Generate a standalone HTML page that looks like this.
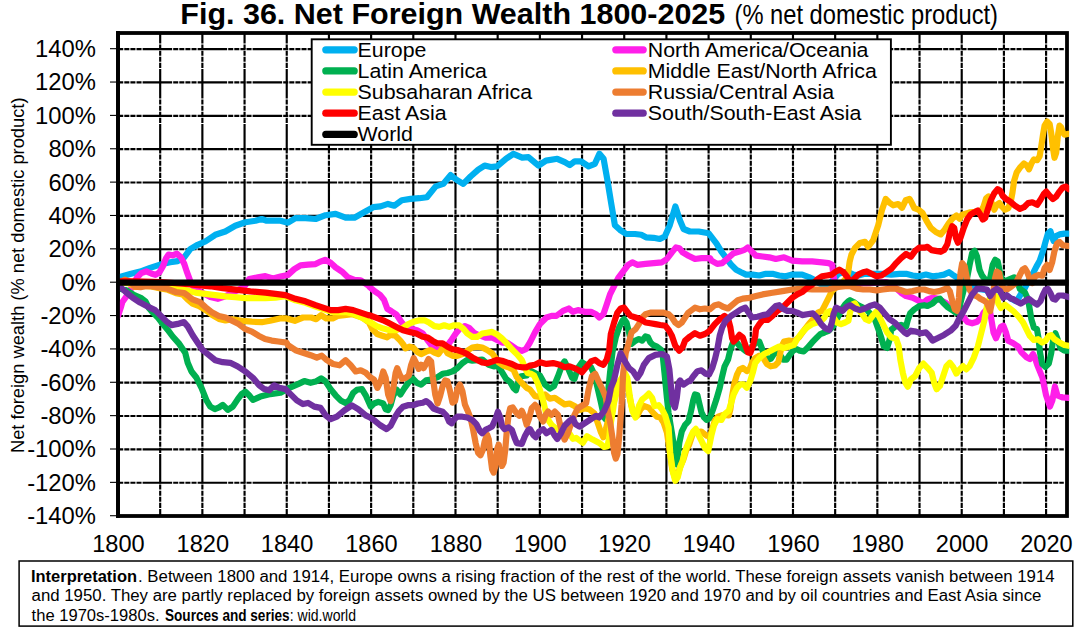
<!DOCTYPE html>
<html lang="en"><head><meta charset="utf-8"><title>Fig. 36. Net Foreign Wealth 1800-2025</title>
<style>html,body{margin:0;padding:0;background:#fff}body{width:1091px;height:638px;overflow:hidden}svg{display:block}text{font-family:"Liberation Sans", sans-serif;fill:#000}</style>
</head><body>
<svg width="1091" height="638" viewBox="0 0 1091 638">
<rect x="0" y="0" width="1091" height="638" fill="#fff"/>
<text x="180.3" y="23.7" font-size="29.2" font-weight="bold" textLength="545.0" lengthAdjust="spacingAndGlyphs">Fig. 36. Net Foreign Wealth 1800-2025</text>
<text x="734.5" y="23.8" font-size="27.6" textLength="263.5" lengthAdjust="spacingAndGlyphs">(% net domestic product)</text>
<g stroke="#000" stroke-width="2.15" fill="none" stroke-dasharray="5.05 1.05 5.05 1.05 5.05 1.05 5.05 1.05 29.55 1.05">
<line x1="118.2" y1="482.76" x2="1063.8" y2="482.76"/>
<line x1="118.2" y1="449.40" x2="1063.8" y2="449.40"/>
<line x1="118.2" y1="416.04" x2="1063.8" y2="416.04"/>
<line x1="118.2" y1="382.68" x2="1063.8" y2="382.68"/>
<line x1="118.2" y1="349.32" x2="1063.8" y2="349.32"/>
<line x1="118.2" y1="315.96" x2="1063.8" y2="315.96"/>
<line x1="118.2" y1="249.24" x2="1063.8" y2="249.24"/>
<line x1="118.2" y1="215.88" x2="1063.8" y2="215.88"/>
<line x1="118.2" y1="182.52" x2="1063.8" y2="182.52"/>
<line x1="118.2" y1="149.16" x2="1063.8" y2="149.16"/>
<line x1="118.2" y1="115.80" x2="1063.8" y2="115.80"/>
<line x1="118.2" y1="82.44" x2="1063.8" y2="82.44"/>
<line x1="118.2" y1="49.08" x2="1063.8" y2="49.08"/>
<line x1="160.19" y1="33.00" x2="160.19" y2="516.0" stroke-dashoffset="43.45"/>
<line x1="202.37" y1="33.00" x2="202.37" y2="516.0" stroke-dashoffset="43.45"/>
<line x1="244.56" y1="33.00" x2="244.56" y2="516.0" stroke-dashoffset="43.45"/>
<line x1="286.74" y1="33.00" x2="286.74" y2="516.0" stroke-dashoffset="43.45"/>
<line x1="328.93" y1="33.00" x2="328.93" y2="516.0" stroke-dashoffset="43.45"/>
<line x1="371.12" y1="33.00" x2="371.12" y2="516.0" stroke-dashoffset="43.45"/>
<line x1="413.30" y1="33.00" x2="413.30" y2="516.0" stroke-dashoffset="43.45"/>
<line x1="455.49" y1="33.00" x2="455.49" y2="516.0" stroke-dashoffset="43.45"/>
<line x1="497.67" y1="33.00" x2="497.67" y2="516.0" stroke-dashoffset="43.45"/>
<line x1="539.86" y1="33.00" x2="539.86" y2="516.0" stroke-dashoffset="43.45"/>
<line x1="582.05" y1="33.00" x2="582.05" y2="516.0" stroke-dashoffset="43.45"/>
<line x1="624.23" y1="33.00" x2="624.23" y2="516.0" stroke-dashoffset="43.45"/>
<line x1="666.42" y1="33.00" x2="666.42" y2="516.0" stroke-dashoffset="43.45"/>
<line x1="708.60" y1="33.00" x2="708.60" y2="516.0" stroke-dashoffset="43.45"/>
<line x1="750.79" y1="33.00" x2="750.79" y2="516.0" stroke-dashoffset="43.45"/>
<line x1="792.98" y1="33.00" x2="792.98" y2="516.0" stroke-dashoffset="43.45"/>
<line x1="835.16" y1="33.00" x2="835.16" y2="516.0" stroke-dashoffset="43.45"/>
<line x1="877.35" y1="33.00" x2="877.35" y2="516.0" stroke-dashoffset="43.45"/>
<line x1="919.53" y1="33.00" x2="919.53" y2="516.0" stroke-dashoffset="43.45"/>
<line x1="961.72" y1="33.00" x2="961.72" y2="516.0" stroke-dashoffset="43.45"/>
<line x1="1003.91" y1="33.00" x2="1003.91" y2="516.0" stroke-dashoffset="43.45"/>
<line x1="1046.09" y1="33.00" x2="1046.09" y2="516.0" stroke-dashoffset="43.45"/>
</g>
<g stroke="#000" stroke-width="1.1">
<line x1="110" y1="515.72" x2="117" y2="515.72"/>
<line x1="110" y1="482.36" x2="117" y2="482.36"/>
<line x1="110" y1="449.00" x2="117" y2="449.00"/>
<line x1="110" y1="415.64" x2="117" y2="415.64"/>
<line x1="110" y1="382.28" x2="117" y2="382.28"/>
<line x1="110" y1="348.92" x2="117" y2="348.92"/>
<line x1="110" y1="315.56" x2="117" y2="315.56"/>
<line x1="110" y1="282.20" x2="117" y2="282.20"/>
<line x1="110" y1="248.84" x2="117" y2="248.84"/>
<line x1="110" y1="215.48" x2="117" y2="215.48"/>
<line x1="110" y1="182.12" x2="117" y2="182.12"/>
<line x1="110" y1="148.76" x2="117" y2="148.76"/>
<line x1="110" y1="115.40" x2="117" y2="115.40"/>
<line x1="110" y1="82.04" x2="117" y2="82.04"/>
<line x1="110" y1="48.68" x2="117" y2="48.68"/>
</g>
<rect x="118.0" y="33.0" width="949.0" height="483.0" fill="none" stroke="#000" stroke-width="3.8"/>
<text x="96.0" y="524.1" font-size="23.0" text-anchor="end" textLength="68.8" lengthAdjust="spacingAndGlyphs">-140%</text>
<text x="96.0" y="490.8" font-size="23.0" text-anchor="end" textLength="68.8" lengthAdjust="spacingAndGlyphs">-120%</text>
<text x="96.0" y="457.4" font-size="23.0" text-anchor="end" textLength="68.8" lengthAdjust="spacingAndGlyphs">-100%</text>
<text x="96.0" y="424.0" font-size="23.0" text-anchor="end" textLength="55.6" lengthAdjust="spacingAndGlyphs">-80%</text>
<text x="96.0" y="390.7" font-size="23.0" text-anchor="end" textLength="55.6" lengthAdjust="spacingAndGlyphs">-60%</text>
<text x="96.0" y="357.3" font-size="23.0" text-anchor="end" textLength="55.6" lengthAdjust="spacingAndGlyphs">-40%</text>
<text x="96.0" y="324.0" font-size="23.0" text-anchor="end" textLength="55.6" lengthAdjust="spacingAndGlyphs">-20%</text>
<text x="96.0" y="290.6" font-size="23.0" text-anchor="end" textLength="34.4" lengthAdjust="spacingAndGlyphs">0%</text>
<text x="96.0" y="257.2" font-size="23.0" text-anchor="end" textLength="47.6" lengthAdjust="spacingAndGlyphs">20%</text>
<text x="96.0" y="223.9" font-size="23.0" text-anchor="end" textLength="47.6" lengthAdjust="spacingAndGlyphs">40%</text>
<text x="96.0" y="190.5" font-size="23.0" text-anchor="end" textLength="47.6" lengthAdjust="spacingAndGlyphs">60%</text>
<text x="96.0" y="157.2" font-size="23.0" text-anchor="end" textLength="47.6" lengthAdjust="spacingAndGlyphs">80%</text>
<text x="96.0" y="123.8" font-size="23.0" text-anchor="end" textLength="60.9" lengthAdjust="spacingAndGlyphs">100%</text>
<text x="96.0" y="90.4" font-size="23.0" text-anchor="end" textLength="60.9" lengthAdjust="spacingAndGlyphs">120%</text>
<text x="96.0" y="57.1" font-size="23.0" text-anchor="end" textLength="60.9" lengthAdjust="spacingAndGlyphs">140%</text>
<text x="118.4" y="552.1" font-size="23.4" text-anchor="middle" textLength="52.5" lengthAdjust="spacingAndGlyphs">1800</text>
<text x="202.8" y="552.1" font-size="23.4" text-anchor="middle" textLength="52.5" lengthAdjust="spacingAndGlyphs">1820</text>
<text x="287.1" y="552.1" font-size="23.4" text-anchor="middle" textLength="52.5" lengthAdjust="spacingAndGlyphs">1840</text>
<text x="371.5" y="552.1" font-size="23.4" text-anchor="middle" textLength="52.5" lengthAdjust="spacingAndGlyphs">1860</text>
<text x="455.9" y="552.1" font-size="23.4" text-anchor="middle" textLength="52.5" lengthAdjust="spacingAndGlyphs">1880</text>
<text x="540.3" y="552.1" font-size="23.4" text-anchor="middle" textLength="52.5" lengthAdjust="spacingAndGlyphs">1900</text>
<text x="624.6" y="552.1" font-size="23.4" text-anchor="middle" textLength="52.5" lengthAdjust="spacingAndGlyphs">1920</text>
<text x="709.0" y="552.1" font-size="23.4" text-anchor="middle" textLength="52.5" lengthAdjust="spacingAndGlyphs">1940</text>
<text x="793.4" y="552.1" font-size="23.4" text-anchor="middle" textLength="52.5" lengthAdjust="spacingAndGlyphs">1960</text>
<text x="877.7" y="552.1" font-size="23.4" text-anchor="middle" textLength="52.5" lengthAdjust="spacingAndGlyphs">1980</text>
<text x="962.1" y="552.1" font-size="23.4" text-anchor="middle" textLength="52.5" lengthAdjust="spacingAndGlyphs">2000</text>
<text x="1046.5" y="552.1" font-size="23.4" text-anchor="middle" textLength="52.5" lengthAdjust="spacingAndGlyphs">2020</text>
<text x="0.0" y="0.0" font-size="18.6" textLength="355.5" lengthAdjust="spacingAndGlyphs" transform="translate(24.4 453) rotate(-90)">Net foreign wealth (% net domestic product)</text>
<clipPath id="pc"><rect x="118" y="20" width="951.2" height="510"/></clipPath>
<g fill="none" stroke-linejoin="round" stroke-linecap="round" clip-path="url(#pc)">
<path d="M118.0 277.4 L125.0 275.4 L130.1 274.1 L140.1 271.6 L150.1 267.9 L160.1 264.6 L170.2 262.3 L177.7 261.1 L183.9 257.8 L190.2 249.1 L197.7 244.8 L205.3 241.5 L215.3 234.8 L225.3 231.5 L235.3 225.7 L245.4 222.2 L255.4 220.7 L261.7 219.0 L266.7 220.7 L272.9 220.7 L280.5 220.7 L288.0 222.7 L295.5 218.2 L305.5 218.2 L315.6 219.0 L325.6 215.2 L335.6 213.9 L345.6 217.7 L354.4 217.7 L363.2 212.7 L373.2 207.2 L380.5 206.4 L388.0 203.9 L394.3 205.7 L401.8 200.2 L410.6 198.9 L419.4 198.2 L426.9 197.2 L435.7 186.4 L443.2 183.9 L450.7 175.1 L457.0 180.1 L463.2 183.9 L470.8 176.3 L478.3 169.6 L484.6 165.6 L490.8 167.1 L497.1 166.3 L505.9 158.8 L513.4 153.8 L522.2 157.6 L528.4 157.1 L538.5 165.6 L546.0 160.6 L557.3 158.8 L564.8 162.1 L569.8 165.1 L574.8 161.3 L581.1 161.3 L588.6 166.3 L594.9 163.8 L599.4 153.8 L603.6 158.8 L607.4 180.1 L611.1 202.7 L614.9 225.2 L619.9 229.8 L626.2 234.0 L635.0 234.0 L641.2 234.8 L646.0 237.3 L653.5 237.8 L659.8 239.0 L664.8 236.5 L669.8 225.2 L675.4 206.4 L679.9 220.2 L683.6 229.0 L689.9 231.5 L698.7 231.5 L708.7 233.3 L716.4 243.3 L721.4 251.6 L726.3 258.1 L731.2 264.8 L736.2 269.7 L741.1 272.2 L746.1 274.6 L752.7 274.6 L759.3 275.5 L765.9 273.8 L772.5 273.8 L779.1 275.5 L785.7 276.3 L792.3 274.6 L802.2 274.6 L808.8 277.1 L813.7 279.6 L818.7 282.9 L823.6 285.4 L828.6 284.6 L833.5 279.6 L838.5 273.8 L843.4 272.2 L848.4 272.2 L853.3 274.6 L858.3 275.5 L864.9 273.8 L870.0 273.8 L874.8 273.8 L883.0 273.8 L891.2 274.6 L899.5 273.8 L906.1 273.8 L912.7 275.5 L919.3 276.3 L925.9 274.6 L932.5 276.3 L939.1 275.5 L944.0 274.6 L949.0 272.2 L952.3 274.6 L956.4 277.1 L965.5 281.2 L972.1 286.2 L977.0 289.0 L982.0 289.5 L986.9 290.3 L990.2 295.3 L993.5 291.5 L996.8 289.2 L1000.1 291.5 L1003.4 296.9 L1006.7 295.6 L1010.9 298.6 L1015.0 300.7 L1016.6 301.2 L1019.1 297.1 L1021.5 293.0 L1024.8 288.1 L1029.8 278.1 L1033.1 273.2 L1036.4 266.6 L1039.7 260.8 L1043.0 250.9 L1045.5 241.9 L1047.9 233.6 L1050.4 231.2 L1052.1 236.9 L1053.7 241.1 L1056.2 236.1 L1059.5 234.4 L1064.4 233.6 L1068.6 233.6" stroke="#00b0f0" stroke-width="6.2"/>
<path d="M118.0 315.9 L120.7 307.8 L122.4 302.0 L126.5 296.2 L130.6 289.6 L133.9 283.0 L137.2 277.2 L141.3 273.1 L146.3 271.4 L151.2 273.5 L155.4 274.8 L159.5 272.3 L162.8 266.5 L166.1 258.2 L168.6 254.5 L172.7 255.4 L176.8 253.7 L181.0 257.4 L184.3 264.0 L186.7 271.4 L189.2 278.1 L190.9 283.0 L195.2 288.8 L202.8 293.1 L210.3 297.1 L217.8 298.8 L225.3 296.3 L232.8 292.6 L240.4 288.8 L245.4 285.0 L249.1 279.1 L257.9 277.4 L265.4 276.1 L272.9 278.4 L280.5 276.6 L288.0 274.9 L294.3 269.1 L300.5 265.3 L308.0 264.6 L315.6 264.1 L320.6 261.6 L325.1 259.8 L330.6 262.8 L335.6 267.4 L341.9 271.6 L348.1 277.4 L354.4 279.9 L360.7 280.4 L368.2 285.4 L370.0 287.3 L374.9 291.4 L379.9 294.8 L384.0 299.7 L387.3 308.8 L391.4 311.2 L396.4 314.6 L401.4 322.0 L405.5 326.9 L411.2 328.6 L417.0 330.2 L422.8 333.5 L426.9 339.3 L431.9 345.9 L436.0 349.2 L440.9 350.0 L445.9 347.5 L450.8 340.9 L455.8 333.5 L459.9 328.6 L464.9 326.1 L469.0 327.8 L473.9 332.7 L478.9 335.2 L485.5 337.6 L492.1 337.6 L497.0 340.1 L502.0 342.6 L506.9 342.6 L511.9 345.9 L516.8 349.2 L521.8 350.8 L525.9 349.2 L530.0 342.3 L535.0 332.4 L539.9 324.1 L546.5 317.5 L551.5 315.9 L556.4 315.9 L563.0 310.9 L568.8 308.5 L572.9 311.8 L577.9 310.1 L584.5 311.8 L591.0 311.8 L596.0 314.2 L599.3 317.5 L603.4 314.2 L606.7 304.4 L610.0 294.4 L614.1 286.2 L618.3 277.9 L623.2 271.4 L628.2 264.8 L632.3 262.3 L637.2 264.8 L645.5 263.9 L653.7 263.1 L662.0 262.3 L666.9 259.0 L671.9 252.4 L676.0 247.4 L679.3 248.2 L682.6 252.4 L688.4 255.7 L695.0 259.0 L701.6 258.1 L710.0 258.1 L711.5 260.6 L717.2 263.9 L722.2 263.1 L728.0 258.1 L733.7 253.2 L739.5 251.6 L744.5 249.9 L747.8 247.4 L751.9 251.6 L756.0 255.7 L762.6 256.5 L769.2 257.3 L775.8 259.0 L784.0 257.3 L792.3 260.6 L802.2 261.4 L812.1 261.4 L822.0 262.3 L828.6 263.1 L832.2 264.8 L833.2 273.0 L834.4 281.2 L835.5 285.4 L850.0 283.2 L866.5 283.2 L886.3 282.1 L892.9 285.4 L901.1 292.8 L906.1 296.1 L912.7 297.8 L917.6 300.2 L922.6 303.5 L927.5 299.4 L932.5 297.8 L937.4 298.6 L945.7 302.7 L949.0 306.0 L953.9 309.3 L958.9 312.6 L963.8 317.5 L967.1 321.7 L972.1 323.3 L977.0 321.7 L981.2 317.5 L983.6 312.6 L986.9 309.3 L990.2 312.6 L991.9 322.5 L993.5 332.4 L996.0 338.2 L998.5 332.4 L1001.0 326.6 L1003.4 325.8 L1005.9 332.4 L1008.3 340.8 L1013.3 343.3 L1018.2 346.6 L1021.5 352.4 L1026.5 357.3 L1029.8 359.0 L1033.1 354.0 L1034.7 357.3 L1037.2 364.9 L1042.4 377.7 L1046.1 395.3 L1049.9 406.5 L1052.4 400.3 L1054.9 386.5 L1057.4 395.3 L1062.4 397.3 L1068.7 397.8" stroke="#ff1fe9" stroke-width="6.2"/>
<path d="M118.2 286.2 L119.9 288.8 L126.5 290.3 L134.8 295.3 L141.3 298.1 L145.5 301.4 L148.8 308.0 L152.9 312.6 L157.8 317.5 L162.8 324.1 L167.8 329.9 L172.7 336.5 L179.3 343.9 L185.2 352.7 L187.7 362.8 L191.5 371.5 L196.5 377.8 L201.5 387.8 L206.5 400.4 L210.3 406.6 L214.8 409.1 L219.1 407.4 L222.8 404.9 L227.8 409.9 L232.8 406.6 L237.8 399.1 L241.6 394.1 L245.4 391.6 L249.1 395.3 L252.9 399.9 L260.4 396.6 L270.4 394.1 L280.5 392.8 L290.5 387.3 L298.0 384.1 L304.3 381.1 L310.6 382.8 L315.6 381.6 L321.1 378.3 L325.6 381.6 L330.6 389.1 L335.6 395.3 L340.6 400.4 L345.6 402.9 L349.4 400.4 L353.2 392.8 L356.9 389.8 L361.9 389.1 L365.7 395.3 L370.7 406.6 L374.1 403.5 L378.2 401.9 L383.2 403.5 L385.7 409.3 L388.1 410.1 L390.6 405.2 L393.1 396.1 L396.4 389.5 L400.5 394.4 L404.6 387.9 L408.8 382.1 L412.9 378.8 L417.0 382.9 L421.1 384.6 L426.1 380.4 L431.1 379.6 L437.6 377.1 L442.6 373.8 L447.5 373.0 L452.5 371.4 L457.4 368.1 L462.4 363.1 L467.3 359.8 L472.3 360.6 L477.2 360.1 L482.2 359.5 L488.8 364.8 L493.7 366.4 L497.9 365.6 L502.0 372.2 L506.1 378.8 L510.2 382.1 L513.5 387.9 L516.0 390.3 L518.5 381.2 L521.0 376.3 L526.7 375.5 L530.0 370.5 L535.0 373.0 L539.9 375.5 L544.9 384.6 L549.8 388.7 L553.9 386.2 L558.0 376.3 L562.2 364.8 L564.6 361.4 L568.0 368.1 L572.1 377.9 L574.5 378.8 L577.9 368.1 L582.0 362.3 L586.1 364.8 L591.0 367.2 L594.4 374.6 L597.6 387.9 L601.0 402.7 L604.2 417.5 L605.6 419.2 L607.5 397.8 L610.0 373.0 L612.5 352.2 L615.8 337.3 L619.1 327.4 L622.4 320.8 L624.0 319.2 L626.5 322.5 L629.0 332.4 L631.5 343.9 L635.6 340.6 L638.9 339.0 L642.2 340.6 L645.5 336.5 L648.0 337.3 L650.4 342.3 L652.9 344.9 L657.0 346.6 L661.2 349.9 L662.8 356.5 L664.5 373.0 L666.9 397.8 L668.6 413.2 L671.9 433.0 L675.2 454.4 L676.8 464.4 L677.7 456.1 L679.3 442.9 L681.8 431.4 L685.1 424.8 L688.4 421.4 L690.9 411.6 L693.3 400.0 L695.0 394.4 L697.4 395.2 L699.1 402.6 L701.5 412.5 L704.0 417.4 L706.5 419.9 L709.8 418.3 L713.1 409.2 L716.4 399.3 L719.7 387.8 L722.2 376.2 L724.6 366.3 L728.0 359.7 L730.4 349.8 L732.9 342.4 L736.2 341.6 L738.7 344.9 L742.0 348.1 L746.1 351.4 L751.0 348.1 L756.0 342.4 L759.3 341.6 L761.8 348.1 L764.2 354.8 L767.5 358.9 L770.8 358.9 L773.3 354.8 L776.6 351.4 L779.9 354.8 L783.2 359.7 L786.5 359.7 L789.8 354.8 L793.1 350.6 L796.4 349.0 L799.7 350.6 L803.8 351.4 L808.0 347.3 L812.1 342.4 L816.2 338.2 L820.3 334.1 L824.5 332.5 L828.6 330.8 L833.5 325.8 L838.5 315.9 L841.8 309.3 L845.1 304.4 L848.4 301.1 L850.0 300.2 L853.3 301.9 L858.2 305.2 L866.5 309.3 L874.8 319.2 L878.0 328.1 L881.4 338.1 L883.8 346.3 L887.1 347.9 L889.6 339.7 L891.2 329.8 L895.4 326.5 L901.1 324.9 L906.1 326.5 L907.8 319.9 L910.2 313.3 L914.4 309.3 L919.3 306.0 L924.2 305.2 L927.5 306.0 L932.5 303.5 L935.8 300.2 L939.9 298.6 L943.2 302.7 L947.3 306.8 L952.3 310.1 L955.6 312.6 L959.7 306.0 L963.8 289.5 L967.1 277.9 L969.6 264.8 L972.1 253.2 L974.6 250.7 L977.0 256.5 L979.5 269.7 L982.0 275.5 L985.3 279.6 L987.8 281.2 L990.2 277.9 L992.7 264.8 L995.2 259.8 L997.7 261.4 L1000.1 273.0 L1002.6 282.9 L1003.4 280.6 L1006.7 280.6 L1010.0 279.0 L1014.1 277.3 L1017.4 281.4 L1019.9 288.9 L1024.8 292.2 L1028.1 299.6 L1029.8 309.5 L1031.4 319.4 L1033.9 327.6 L1036.9 329.0 L1038.4 337.5 L1040.0 352.4 L1042.2 363.9 L1045.5 366.9 L1048.8 363.6 L1051.2 353.1 L1052.9 341.5 L1055.4 333.3 L1057.8 339.9 L1060.3 348.1 L1064.4 350.6 L1068.6 350.6" stroke="#00b050" stroke-width="6.2"/>
<path d="M118.2 283.2 L124.8 280.4 L134.8 287.0 L143.0 285.9 L151.2 286.5 L159.5 288.2 L167.8 289.8 L176.0 293.1 L182.6 294.4 L187.5 299.4 L192.5 303.5 L199.1 306.0 L205.7 310.1 L212.3 315.1 L218.9 318.9 L225.5 320.5 L232.1 319.2 L242.0 320.8 L251.9 321.7 L261.8 322.2 L270.0 320.8 L279.9 318.4 L286.5 318.4 L294.8 320.8 L303.0 317.5 L311.2 317.5 L316.2 319.2 L321.1 315.1 L326.1 318.4 L332.7 318.4 L337.6 315.9 L344.2 315.1 L352.5 314.2 L362.4 317.5 L369.0 322.5 L372.3 329.1 L377.2 334.0 L382.2 335.7 L387.1 337.3 L390.4 334.9 L395.4 335.7 L400.3 340.6 L403.6 344.9 L405.5 348.4 L409.6 346.7 L412.9 347.5 L417.0 351.7 L421.1 354.1 L426.1 351.7 L430.2 350.0 L434.4 352.5 L438.5 354.1 L441.8 349.2 L444.2 347.5 L447.5 353.3 L452.5 355.8 L457.4 355.8 L462.4 354.1 L467.3 350.8 L472.3 347.5 L477.2 346.7 L482.2 347.5 L487.1 350.0 L492.1 353.3 L498.7 362.4 L503.6 365.7 L508.6 367.3 L513.5 369.8 L516.8 377.1 L521.8 382.9 L526.7 387.9 L530.0 389.5 L535.0 396.1 L539.9 396.9 L544.9 394.4 L549.8 398.6 L554.8 397.8 L559.7 401.1 L564.6 404.4 L569.6 403.5 L574.5 406.0 L579.5 410.1 L584.5 408.5 L589.4 409.3 L594.4 413.4 L597.6 422.5 L601.0 432.4 L603.4 437.3 L605.9 429.1 L608.4 419.2 L610.8 406.0 L614.1 392.8 L617.4 386.2 L620.7 380.4 L624.9 375.5 L627.3 382.9 L629.0 394.4 L631.5 406.0 L633.9 412.6 L637.2 415.9 L640.5 409.3 L643.8 406.0 L648.8 407.6 L652.9 412.6 L657.0 416.7 L660.3 417.5 L663.6 422.5 L666.9 432.4 L669.9 452.8 L672.2 469.3 L674.9 477.5 L677.7 475.1 L680.5 466.0 L683.4 459.4 L686.4 449.5 L689.2 444.6 L693.3 432.3 L696.6 432.3 L701.2 431.5 L706.5 435.6 L710.0 436.2 L712.3 429.0 L714.8 420.7 L718.0 416.6 L723.0 415.0 L728.8 415.5 L730.4 409.2 L732.1 396.0 L734.5 382.8 L737.0 374.6 L739.5 369.6 L742.8 367.9 L746.9 371.2 L749.4 369.6 L751.9 363.0 L755.2 358.1 L759.3 355.6 L763.4 358.1 L766.7 363.8 L770.8 366.3 L775.0 365.5 L778.3 362.2 L779.9 354.8 L781.6 346.5 L784.0 341.5 L789.0 340.6 L793.9 341.5 L798.9 337.3 L803.8 330.7 L808.8 324.1 L813.7 318.4 L817.9 312.6 L822.0 310.9 L825.3 304.4 L828.6 297.8 L831.9 291.1 L835.2 287.9 L838.5 286.2 L841.8 282.9 L845.9 278.8 L848.1 273.0 L849.7 261.4 L851.4 254.8 L855.0 247.9 L859.9 243.0 L864.9 241.8 L868.1 246.7 L873.1 240.4 L878.2 225.3 L881.9 210.3 L885.7 199.0 L889.5 202.8 L893.2 205.3 L898.2 204.0 L902.0 207.8 L905.7 200.3 L909.5 199.0 L911.0 201.4 L914.3 208.1 L918.4 209.7 L922.5 213.0 L926.7 221.2 L930.8 227.8 L935.8 232.0 L940.7 234.4 L944.8 229.5 L949.0 222.9 L953.1 217.9 L956.4 215.5 L959.7 218.8 L962.1 214.7 L966.3 213.5 L970.4 212.3 L974.5 211.7 L978.6 211.0 L981.1 211.0 L983.6 206.4 L986.1 198.5 L988.5 196.5 L991.0 200.6 L992.7 206.4 L994.3 209.7 L996.8 204.8 L999.3 203.1 L1001.7 206.4 L1005.0 209.7 L1008.3 208.1 L1010.8 201.4 L1012.5 192.4 L1014.1 180.8 L1016.6 172.6 L1019.9 167.7 L1024.0 163.5 L1026.5 165.2 L1029.0 169.3 L1031.4 163.5 L1033.9 159.4 L1037.2 160.2 L1039.7 156.1 L1041.3 146.2 L1043.0 134.7 L1044.6 125.6 L1047.1 121.5 L1049.6 123.9 L1051.2 133.0 L1052.9 147.8 L1054.5 157.8 L1056.2 152.8 L1057.8 136.3 L1059.5 125.6 L1061.1 127.2 L1062.8 132.2 L1064.4 134.7 L1068.6 133.8" stroke="#ffc000" stroke-width="6.2"/>
<path d="M118.0 282.5 L142.6 284.5 L167.7 287.6 L175.2 288.8 L185.2 290.1 L195.2 292.6 L205.3 293.8 L215.3 295.1 L225.3 296.3 L235.3 297.1 L245.4 298.1 L255.4 298.1 L265.4 298.1 L275.5 297.6 L285.5 296.3 L295.5 300.3 L305.5 302.8 L315.6 306.6 L323.1 309.1 L330.6 311.6 L338.1 312.1 L345.6 311.9 L353.2 313.6 L360.7 317.1 L367.0 320.6 L370.0 322.0 L376.6 326.1 L383.2 328.6 L389.8 330.2 L396.4 330.2 L403.0 327.8 L407.9 324.4 L412.9 322.0 L419.5 320.3 L424.4 320.3 L429.4 322.8 L434.4 326.1 L439.3 326.9 L444.2 325.3 L449.2 326.9 L454.1 325.3 L459.1 325.3 L463.2 328.6 L467.3 333.5 L472.3 336.8 L477.2 336.8 L482.2 333.5 L487.1 332.7 L492.1 331.9 L497.0 334.4 L502.0 338.5 L506.9 343.4 L511.9 349.2 L516.8 354.1 L521.8 359.9 L525.1 368.1 L527.6 373.0 L530.9 373.8 L534.1 375.5 L538.2 384.6 L542.4 397.8 L545.7 411.6 L548.1 419.8 L551.5 424.8 L555.6 428.1 L559.7 430.5 L564.6 433.0 L569.6 433.8 L572.9 438.8 L576.2 437.9 L579.5 440.4 L582.8 442.9 L586.9 436.3 L592.7 439.6 L599.3 442.9 L604.2 447.0 L607.5 446.2 L609.2 437.9 L610.8 423.1 L612.5 413.2 L614.1 402.7 L617.4 389.5 L620.7 379.6 L624.9 373.0 L627.3 377.9 L629.8 396.1 L632.3 410.9 L635.6 417.5 L638.9 406.0 L642.2 399.4 L645.5 396.9 L648.8 393.6 L652.1 397.8 L654.6 406.0 L658.7 405.2 L662.0 409.3 L665.3 415.9 L668.6 427.4 L670.2 452.8 L672.7 470.9 L675.2 480.8 L677.7 477.5 L680.1 467.6 L682.6 461.1 L685.1 451.1 L687.6 444.6 L690.9 436.3 L693.3 431.4 L695.8 428.9 L698.3 434.6 L701.6 441.2 L704.9 447.9 L708.2 451.1 L711.5 434.9 L713.9 425.7 L717.2 419.1 L721.4 419.9 L724.6 414.1 L728.8 410.8 L731.2 402.6 L733.7 394.4 L737.0 387.8 L740.3 384.4 L743.6 384.4 L746.9 387.8 L750.2 381.1 L752.7 372.9 L755.2 363.0 L759.3 358.1 L764.2 353.9 L769.2 351.4 L774.1 349.0 L779.1 346.5 L784.0 348.1 L789.0 346.5 L793.9 344.9 L797.2 339.0 L802.2 332.4 L807.1 327.4 L812.1 324.1 L817.0 322.5 L821.2 320.8 L824.5 317.5 L826.9 312.6 L830.2 310.9 L833.5 317.5 L836.8 322.5 L841.0 324.1 L845.1 322.5 L848.4 320.8 L850.0 312.6 L852.5 304.4 L855.0 303.5 L858.2 309.3 L862.4 314.2 L865.7 319.2 L869.0 320.8 L873.1 315.1 L876.4 311.8 L879.7 317.5 L883.0 324.1 L887.1 332.4 L891.2 337.3 L896.2 339.0 L898.7 346.3 L900.3 359.5 L902.8 372.7 L905.3 382.6 L907.8 386.7 L911.0 379.3 L915.2 376.0 L919.3 367.8 L923.4 363.6 L927.5 367.8 L931.7 372.7 L934.1 382.6 L936.6 389.2 L939.9 385.9 L943.2 376.0 L946.5 366.1 L949.8 362.8 L953.1 366.9 L956.4 373.5 L959.7 369.4 L963.0 366.1 L966.3 369.4 L969.6 366.1 L973.7 357.9 L977.9 346.3 L981.2 333.1 L984.5 319.9 L986.9 306.2 L991.8 293.0 L996.8 297.1 L998.4 303.7 L1000.9 307.9 L1005.0 304.6 L1009.2 307.9 L1013.3 311.1 L1018.2 316.1 L1023.2 322.7 L1026.5 329.3 L1029.8 335.9 L1033.9 340.0 L1038.0 339.2 L1042.2 342.5 L1045.5 340.8 L1048.8 335.9 L1051.2 335.1 L1054.5 339.2 L1059.5 342.5 L1064.4 345.0 L1068.6 345.8" stroke="#ffff00" stroke-width="6.2"/>
<path d="M118.2 283.2 L124.8 279.6 L129.8 281.6 L134.8 286.7 L140.5 287.2 L144.7 286.2 L151.2 286.2 L159.5 287.4 L167.8 288.8 L176.0 292.0 L184.2 293.0 L188.4 296.1 L192.5 299.4 L199.9 302.2 L205.7 307.3 L212.3 312.6 L218.9 315.9 L225.5 317.5 L232.1 320.8 L238.7 324.1 L245.3 329.1 L251.9 331.6 L258.5 335.7 L265.1 339.0 L271.7 340.6 L278.3 341.5 L286.5 342.6 L288.0 345.2 L295.5 350.2 L303.0 352.7 L310.6 355.2 L316.8 357.7 L321.8 355.7 L326.9 360.2 L333.1 364.0 L339.4 365.3 L345.6 360.2 L350.7 365.3 L355.7 371.5 L360.7 370.3 L365.7 372.8 L370.0 377.1 L374.1 379.6 L377.4 387.9 L380.7 381.2 L383.2 371.4 L385.7 377.9 L388.1 394.4 L390.6 401.1 L393.1 389.5 L395.6 373.0 L397.2 368.1 L399.7 374.6 L402.2 378.8 L405.5 377.9 L408.8 375.5 L411.2 364.8 L413.7 358.1 L416.2 363.1 L418.7 368.9 L421.1 364.8 L423.6 368.1 L426.1 363.9 L428.6 359.0 L431.1 361.4 L432.7 376.3 L435.2 394.4 L437.6 403.5 L440.1 396.1 L442.6 386.2 L445.1 380.4 L447.5 381.2 L450.0 391.1 L452.5 402.7 L455.0 401.1 L457.4 389.5 L459.9 384.6 L462.4 391.1 L464.9 404.4 L467.3 409.9 L470.6 418.1 L473.1 429.7 L475.6 442.9 L478.1 452.8 L480.5 455.3 L483.0 449.5 L484.7 441.2 L487.1 434.6 L488.8 439.6 L490.4 456.1 L492.1 469.3 L493.7 472.6 L495.4 466.0 L497.0 449.5 L498.7 444.6 L500.3 454.4 L502.0 466.0 L503.6 462.7 L505.3 449.5 L506.9 429.7 L508.6 414.9 L510.2 408.2 L512.7 407.4 L516.0 412.4 L519.3 415.7 L521.8 410.7 L524.3 416.5 L526.7 424.8 L529.2 418.1 L531.7 408.2 L535.0 404.9 L537.5 407.4 L539.9 416.5 L543.2 421.4 L545.7 414.9 L548.1 411.6 L551.5 414.9 L554.8 411.6 L558.0 414.9 L559.7 423.1 L562.2 433.0 L564.6 439.6 L568.0 433.0 L571.2 423.1 L574.5 414.9 L577.9 408.2 L582.0 405.8 L586.1 403.3 L588.6 389.5 L591.9 376.3 L595.2 373.8 L598.5 381.2 L602.6 389.5 L605.9 397.8 L607.5 409.9 L610.0 421.4 L612.5 437.9 L614.1 452.8 L615.8 458.6 L617.4 454.4 L619.1 437.9 L620.4 419.8 L621.6 404.9 L623.2 373.0 L625.7 353.2 L628.2 344.9 L629.8 339.0 L631.5 332.4 L635.6 329.1 L638.9 324.1 L642.2 317.5 L645.5 314.2 L650.4 312.6 L657.0 312.6 L663.6 312.6 L668.6 314.2 L671.9 317.5 L675.2 322.5 L678.5 325.0 L681.8 322.5 L685.1 317.5 L688.4 312.6 L695.0 307.6 L699.9 309.3 L704.9 308.5 L709.8 309.3 L714.8 305.2 L718.9 304.4 L723.0 306.8 L728.0 308.5 L732.9 304.4 L737.9 300.2 L742.8 298.6 L749.4 297.8 L756.0 296.1 L762.6 294.4 L772.5 292.8 L782.4 291.1 L792.3 289.5 L802.2 288.7 L812.1 289.5 L822.0 289.5 L828.6 289.5 L833.5 287.9 L838.5 287.0 L845.1 286.2 L850.0 286.2 L856.6 288.7 L863.2 289.5 L869.8 289.5 L876.4 290.3 L883.0 289.5 L889.6 288.7 L896.2 288.7 L901.1 290.3 L906.1 292.0 L912.7 291.1 L919.3 289.5 L924.2 289.5 L929.2 291.1 L934.1 292.0 L939.1 291.1 L944.0 289.5 L947.3 287.9 L949.8 291.1 L952.3 301.1 L954.8 309.3 L957.2 310.9 L958.9 297.8 L960.5 273.0 L962.2 263.1 L964.7 266.4 L967.1 279.6 L969.6 289.7 L972.9 294.6 L977.0 296.3 L980.3 298.8 L983.6 300.4 L986.9 302.9 L990.2 311.1 L991.8 302.9 L993.5 289.7 L995.1 278.1 L996.8 271.6 L999.3 273.2 L1000.9 283.1 L1003.4 288.1 L1006.7 289.7 L1011.6 286.4 L1015.8 283.1 L1019.1 276.5 L1022.4 269.9 L1024.8 268.2 L1027.3 272.4 L1029.8 279.0 L1032.3 283.1 L1034.7 276.5 L1038.9 274.9 L1042.2 275.7 L1044.6 268.2 L1047.1 264.9 L1049.6 269.9 L1052.1 262.5 L1054.5 250.9 L1057.0 243.5 L1059.5 241.9 L1062.8 245.2 L1068.6 246.0" stroke="#ed7d31" stroke-width="6.2"/>
<path d="M118.0 281.3 L135.1 281.3 L160.1 282.0 L185.2 283.8 L210.3 286.3 L222.8 288.1 L235.3 289.6 L250.4 291.3 L265.4 292.6 L275.5 293.8 L285.5 295.1 L295.5 298.8 L305.5 301.3 L315.6 305.1 L323.1 307.6 L330.6 310.1 L338.1 310.1 L345.6 308.9 L353.2 310.1 L360.7 312.6 L368.2 315.1 L370.0 315.4 L376.6 317.9 L383.2 320.3 L389.8 323.6 L396.4 326.9 L403.0 330.2 L409.6 331.9 L416.2 333.5 L422.8 336.8 L427.8 337.6 L432.7 340.9 L437.6 343.4 L442.6 343.4 L447.5 346.7 L452.5 349.2 L457.4 350.0 L462.4 351.7 L467.3 354.1 L472.3 357.4 L477.2 359.9 L482.2 362.4 L487.1 363.2 L492.1 361.6 L497.0 359.9 L502.0 360.7 L506.9 362.4 L511.9 364.0 L516.8 366.5 L521.8 367.3 L526.7 367.3 L530.0 365.6 L535.0 364.8 L539.9 362.3 L546.5 363.9 L553.1 363.1 L559.7 364.8 L564.6 367.2 L569.6 366.4 L576.2 368.9 L582.0 372.2 L586.1 367.2 L591.0 361.4 L595.2 359.8 L599.3 363.1 L603.4 364.8 L606.7 359.8 L609.2 349.9 L610.8 334.0 L614.1 322.5 L617.4 312.6 L620.7 308.5 L624.0 307.6 L627.3 311.8 L630.6 315.9 L635.6 317.5 L640.5 319.2 L645.5 322.5 L650.4 323.3 L655.4 324.1 L660.3 325.0 L665.3 325.8 L668.6 329.9 L671.9 335.7 L675.2 345.6 L679.3 350.7 L682.6 347.2 L685.1 340.6 L690.0 336.5 L695.0 333.2 L699.9 335.7 L704.9 334.0 L709.8 330.7 L714.8 324.1 L719.7 319.2 L724.6 315.9 L728.0 318.4 L730.4 327.4 L732.1 338.2 L733.7 341.6 L737.0 338.2 L739.5 334.9 L742.8 337.4 L745.3 344.9 L747.8 352.3 L750.2 353.1 L752.7 346.5 L755.2 336.6 L756.0 329.1 L759.3 324.1 L762.6 320.0 L767.5 320.0 L772.5 315.9 L777.4 310.9 L782.4 307.6 L787.3 302.7 L792.3 297.8 L797.2 294.4 L802.2 292.0 L807.1 287.9 L812.1 284.6 L817.0 279.6 L822.0 276.3 L826.9 275.5 L831.9 274.6 L836.0 271.4 L839.3 269.7 L843.4 272.2 L846.7 276.3 L850.0 281.2 L853.3 279.6 L858.2 274.6 L863.2 272.2 L866.5 271.4 L871.5 273.8 L876.4 276.3 L881.4 275.5 L886.3 272.2 L891.2 268.9 L896.2 263.1 L901.1 258.1 L906.1 254.0 L911.0 256.7 L915.1 250.9 L919.2 247.7 L924.2 247.7 L927.5 246.8 L931.6 250.1 L935.8 250.9 L940.7 251.8 L944.0 250.1 L947.3 244.3 L949.8 232.8 L952.2 226.2 L954.2 227.8 L955.9 237.8 L958.0 242.7 L960.5 237.8 L963.8 227.8 L967.1 219.6 L970.4 214.7 L974.5 212.2 L977.8 210.5 L980.3 214.7 L982.8 219.6 L985.2 217.9 L987.7 209.7 L991.0 199.8 L994.3 193.2 L997.6 189.1 L1000.1 190.7 L1002.6 195.7 L1005.9 199.0 L1010.0 201.4 L1014.9 205.6 L1019.9 208.9 L1024.0 207.2 L1028.1 203.1 L1032.3 202.3 L1037.2 204.8 L1040.5 199.8 L1043.8 194.0 L1046.3 191.6 L1049.6 195.7 L1052.9 199.0 L1056.2 196.5 L1059.5 191.6 L1062.8 187.4 L1066.1 186.6 L1068.6 189.1" stroke="#ff0000" stroke-width="6.2"/>
<path d="M118.0 285.0 L125.0 291.3 L132.6 297.6 L140.1 302.6 L147.6 306.4 L155.1 310.1 L161.4 316.4 L166.4 321.4 L171.4 325.1 L177.7 323.9 L183.9 322.1 L187.7 326.4 L192.7 335.2 L197.7 342.7 L202.8 350.2 L209.0 355.2 L215.3 360.2 L222.8 362.2 L230.3 362.8 L237.8 366.5 L245.4 371.5 L252.9 377.8 L259.2 385.3 L264.2 389.1 L269.2 390.3 L274.2 385.3 L279.2 387.8 L285.5 389.1 L290.5 394.1 L296.8 400.4 L303.0 404.1 L308.0 402.9 L314.3 406.6 L320.6 407.9 L325.6 415.4 L330.6 419.2 L336.9 416.6 L344.4 410.4 L351.9 405.4 L358.2 409.1 L365.7 415.4 L370.0 417.5 L374.9 420.8 L379.9 425.0 L386.5 429.1 L390.6 425.8 L394.8 417.5 L398.9 410.9 L403.0 406.8 L407.9 405.2 L412.9 405.2 L417.9 403.5 L422.8 402.7 L426.1 401.1 L429.4 403.5 L433.5 408.5 L437.6 410.1 L442.6 411.8 L446.7 415.9 L449.2 421.7 L451.7 423.3 L454.1 419.2 L457.4 416.7 L462.4 416.7 L467.3 417.5 L472.3 420.0 L476.4 424.1 L479.7 430.7 L482.2 433.2 L485.5 429.9 L488.8 428.3 L492.1 426.6 L495.4 419.2 L497.9 411.8 L500.3 417.5 L502.0 425.8 L504.5 429.1 L508.6 427.4 L511.9 429.9 L514.4 437.3 L516.8 443.1 L521.8 443.9 L525.1 435.7 L528.4 429.9 L530.0 429.1 L533.3 434.9 L535.8 437.3 L539.1 431.6 L543.2 429.1 L546.5 433.2 L551.5 429.9 L554.8 435.7 L557.2 439.0 L560.5 434.0 L564.6 425.8 L569.6 420.8 L572.9 418.4 L575.4 424.1 L579.5 426.6 L584.5 423.3 L591.0 419.2 L596.0 415.9 L599.3 417.5 L604.2 410.9 L608.4 401.1 L610.8 387.9 L614.1 379.6 L617.4 364.8 L620.7 353.2 L624.9 361.4 L629.0 368.1 L633.1 371.4 L637.2 377.9 L640.5 373.0 L643.8 364.8 L648.8 358.1 L655.4 354.9 L662.0 354.0 L666.9 356.5 L669.4 369.7 L671.1 387.9 L672.7 402.7 L674.9 407.6 L676.8 397.8 L678.5 382.9 L680.1 380.4 L683.4 384.6 L688.4 381.2 L690.0 381.1 L693.3 376.2 L697.4 371.2 L701.5 370.4 L705.7 373.7 L709.0 374.6 L712.3 367.9 L714.8 359.7 L717.2 349.8 L719.7 335.7 L722.2 327.4 L725.5 320.8 L731.2 315.9 L736.2 312.6 L741.1 309.3 L745.3 307.6 L748.6 312.6 L751.9 317.5 L757.6 316.7 L762.6 315.1 L767.5 314.2 L772.5 309.3 L775.8 306.0 L779.1 305.2 L782.4 308.5 L787.3 310.9 L792.3 310.9 L797.2 312.6 L802.2 315.1 L807.1 314.2 L812.9 313.4 L817.0 317.5 L821.2 324.1 L825.3 328.3 L829.4 329.9 L831.9 322.5 L833.5 314.2 L836.0 307.6 L839.3 309.3 L842.6 310.9 L846.7 306.8 L850.0 305.2 L855.0 308.5 L859.9 310.1 L864.9 308.5 L869.8 306.0 L874.8 304.4 L879.7 307.6 L884.6 313.4 L889.6 319.2 L894.5 322.5 L899.5 327.4 L904.5 332.4 L906.9 334.0 L911.0 330.7 L916.0 331.6 L921.0 333.2 L925.9 332.4 L929.2 335.7 L932.5 340.6 L937.4 338.2 L944.0 334.9 L950.6 330.7 L955.6 325.8 L958.9 319.2 L963.8 310.9 L968.0 302.7 L972.1 294.4 L977.0 288.7 L982.0 288.7 L986.9 289.5 L990.2 296.1 L993.5 291.1 L996.8 288.7 L1000.1 291.1 L1003.4 297.8 L1006.7 295.3 L1010.9 298.6 L1012.5 298.8 L1016.6 301.2 L1020.7 303.7 L1024.8 301.2 L1029.0 298.8 L1033.1 302.1 L1037.2 304.6 L1040.5 301.2 L1043.0 294.6 L1045.5 289.7 L1047.9 288.9 L1050.4 293.0 L1052.9 298.8 L1055.4 299.6 L1058.7 295.5 L1062.8 295.5 L1068.6 297.1" stroke="#7030a0" stroke-width="6.2"/>
<path d="M118.0 282.6 L1068.5 282.6" stroke="#000000" stroke-width="6.3" stroke-linecap="butt"/>
</g>
<line x1="118" y1="31.1" x2="118" y2="517.9" stroke="#000" stroke-width="3.8"/>
<rect x="311.7" y="39.3" width="579.2" height="105.5" fill="#fff" stroke="#000" stroke-width="1.9"/>
<line x1="325.8" y1="49.8" x2="354.2" y2="49.8" stroke="#00b0f0" stroke-width="7.2" stroke-linecap="round"/>
<text x="357.6" y="56.7" font-size="19.7" textLength="68.8" lengthAdjust="spacingAndGlyphs">Europe</text>
<line x1="325.8" y1="70.9" x2="354.2" y2="70.9" stroke="#00b050" stroke-width="7.2" stroke-linecap="round"/>
<text x="357.6" y="77.8" font-size="19.7" textLength="129.4" lengthAdjust="spacingAndGlyphs">Latin America</text>
<line x1="325.8" y1="92.1" x2="354.2" y2="92.1" stroke="#ffff00" stroke-width="7.2" stroke-linecap="round"/>
<text x="357.6" y="99.0" font-size="19.7" textLength="174.5" lengthAdjust="spacingAndGlyphs">Subsaharan Africa</text>
<line x1="325.8" y1="113.2" x2="354.2" y2="113.2" stroke="#ff0000" stroke-width="7.2" stroke-linecap="round"/>
<text x="357.6" y="120.2" font-size="19.7" textLength="89.0" lengthAdjust="spacingAndGlyphs">East Asia</text>
<line x1="325.8" y1="134.4" x2="354.2" y2="134.4" stroke="#000000" stroke-width="7.2" stroke-linecap="round"/>
<text x="357.6" y="141.3" font-size="19.7" textLength="55.4" lengthAdjust="spacingAndGlyphs">World</text>
<line x1="615.8" y1="49.8" x2="643.2" y2="49.8" stroke="#ff1fe9" stroke-width="7.2" stroke-linecap="round"/>
<text x="647.8" y="56.7" font-size="19.7" textLength="220.7" lengthAdjust="spacingAndGlyphs">North America/Oceania</text>
<line x1="615.8" y1="70.9" x2="643.2" y2="70.9" stroke="#ffc000" stroke-width="7.2" stroke-linecap="round"/>
<text x="647.8" y="77.8" font-size="19.7" textLength="229.0" lengthAdjust="spacingAndGlyphs">Middle East/North Africa</text>
<line x1="615.8" y1="92.1" x2="643.2" y2="92.1" stroke="#ed7d31" stroke-width="7.2" stroke-linecap="round"/>
<text x="647.8" y="99.0" font-size="19.7" textLength="186.3" lengthAdjust="spacingAndGlyphs">Russia/Central Asia</text>
<line x1="615.8" y1="113.2" x2="643.2" y2="113.2" stroke="#7030a0" stroke-width="7.2" stroke-linecap="round"/>
<text x="647.8" y="120.2" font-size="19.7" textLength="213.6" lengthAdjust="spacingAndGlyphs">South/South-East Asia</text>
<rect x="19.1" y="561.0" width="1053.7" height="65.1" fill="#fff" stroke="#000" stroke-width="1.5"/>
<text x="31.0" y="582.1" font-size="16.0" font-weight="bold" textLength="106.0" lengthAdjust="spacingAndGlyphs">Interpretation</text>
<text x="138.0" y="582.1" font-size="16.0" textLength="916.6" lengthAdjust="spacingAndGlyphs">. Between 1800 and 1914, Europe owns a rising fraction of the rest of the world. These foreign assets vanish between 1914</text>
<text x="31.6" y="601.4" font-size="16.0" textLength="1009.8" lengthAdjust="spacingAndGlyphs">and 1950. They are partly replaced by foreign assets owned by the US between 1920 and 1970 and by oil countries and East Asia since</text>
<text x="31.6" y="620.6" font-size="16.0" textLength="128.0" lengthAdjust="spacingAndGlyphs">the 1970s-1980s.</text>
<text x="165.0" y="620.6" font-size="16.0" font-weight="bold" textLength="124.6" lengthAdjust="spacingAndGlyphs">Sources and series</text>
<text x="289.8" y="620.6" font-size="16.0" textLength="66.2" lengthAdjust="spacingAndGlyphs">: wid.world</text>
</svg>
</body></html>
